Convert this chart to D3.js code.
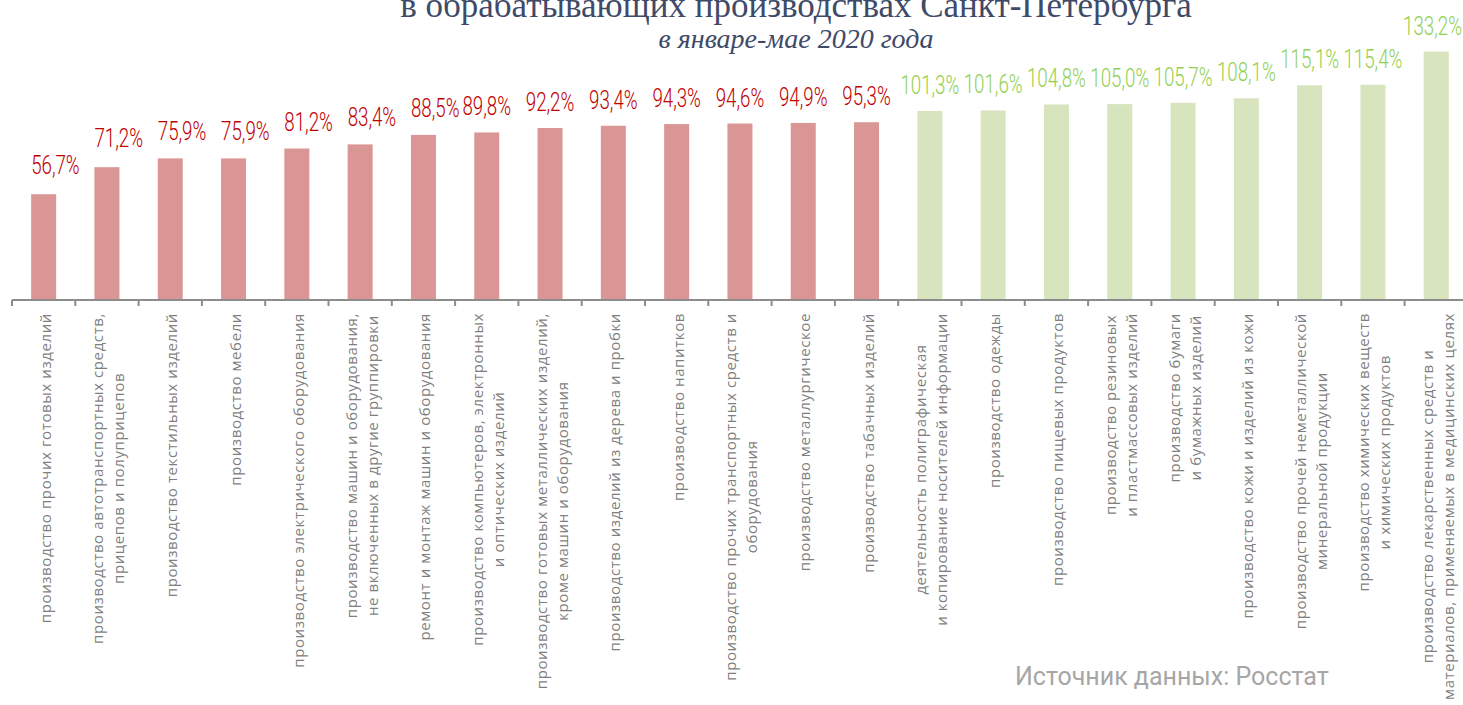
<!DOCTYPE html>
<html><head><meta charset="utf-8">
<script src="https://cdn.jsdelivr.net/npm/d3@7"></script>
<style>
html,body{margin:0;padding:0;background:#fff;}
svg{display:block;}
</style></head>
<body>
<svg id="chart" width="1463" height="705"></svg>
<script>
const categories = [
  ["производство прочих готовых изделий"],
  ["производство автотранспортных средств,", "прицепов и полуприцепов"],
  ["производство текстильных изделий"],
  ["производство мебели"],
  ["производство электрического оборудования"],
  ["производство машин и оборудования,", "не включенных в другие группировки"],
  ["ремонт и монтаж машин и оборудования"],
  ["производство компьютеров, электронных", "и оптических изделий"],
  ["производство готовых металлических изделий,", "кроме машин  и оборудования"],
  ["производство изделий из дерева и пробки"],
  ["производство напитков"],
  ["производство прочих транспортных средств и", "оборудования"],
  ["производство металлургическое"],
  ["производство табачных изделий"],
  ["деятельность полиграфическая", "и копирование носителей информации"],
  ["производство одежды"],
  ["производство пищевых продуктов"],
  ["производство резиновых", "и пластмассовых изделий"],
  ["производство бумаги", "и бумажных изделий"],
  ["производство кожи и изделий из кожи"],
  ["производство прочей неметаллической", "минеральной продукции"],
  ["производство химических веществ", "и химических продуктов"],
  ["производство лекарственных средств и", "материалов, применяемых в медицинских целях"]
];
const values = [56.7, 71.2, 75.9, 75.9, 81.2, 83.4, 88.5, 89.8, 92.2, 93.4, 94.3, 94.6, 94.9, 95.3,
                101.3, 101.6, 104.8, 105.0, 105.7, 108.1, 115.1, 115.4, 133.2];
const titleLine = "в обрабатывающих производствах Санкт-Петербурга";
const subtitle = "в январе-мае 2020 года";
const sourceText = "Источник данных: Росстат";

const W = 1463;
const svg = d3.select("#chart");
const n = values.length;
const step = 63.3;
const x0 = 12, baseY = 300;
const x = d3.scaleBand().domain(d3.range(n)).range([x0, x0 + step * n]).paddingInner(0.605).paddingOuter(0.3025);
const y = d3.scaleLinear().domain([0, 133.2]).range([baseY, 51.5]);
const fmt = v => d3.format(".1f")(v).replace(".", ",") + "%";
const isUp = v => v >= 100;

// title
svg.append("text").attr("x", 796).attr("y", 17).attr("text-anchor", "middle")
  .attr("font-family", "Liberation Serif, serif").attr("font-size", 35).attr("fill", "#3E4A68")
  .text(titleLine);
svg.append("text").attr("x", 796).attr("y", 48).attr("text-anchor", "middle")
  .attr("font-family", "Liberation Serif, serif").attr("font-style", "italic").attr("font-size", 28).attr("fill", "#3E4A68")
  .text(subtitle);

// bars
svg.append("g").selectAll("rect").data(values).join("rect")
  .attr("x", (d, i) => x(i)).attr("width", x.bandwidth())
  .attr("y", d => y(d)).attr("height", d => baseY - y(d))
  .attr("fill", d => isUp(d) ? "#D7E4BD" : "#D99694");

// value labels (first few sit left-aligned on the bar, the rest centred)
const leftAligned = i => i < 7;
const sx = 0.72;
const labels = svg.append("g").selectAll("text").data(values).join("text")
  .attr("text-anchor", (d, i) => leftAligned(i) ? "start" : "middle")
  .attr("font-family", "Roboto, sans-serif")
  .attr("font-weight", 300)
  .attr("font-size", 26)
  .attr("fill", d => isUp(d) ? "#92D050" : "#C00000")
  .text(fmt);
labels.each(function (d, i) {
  const w = this.getComputedTextLength() * sx;
  let tx = leftAligned(i) ? x(i) : x(i) + x.bandwidth() / 2;
  const right = leftAligned(i) ? tx + w : tx + w / 2;
  if (right > W - 1) tx -= right - (W - 1);
  const gap = i < 2 ? 20 : (leftAligned(i) ? 18 : 17);
  d3.select(this).attr("transform", `translate(${tx},${y(d) - gap}) scale(${sx},1)`);
});

// axis line + ticks
const axis = svg.append("g");
axis.append("line").attr("x1", x0).attr("x2", x0 + step * n).attr("y1", baseY).attr("y2", baseY)
  .attr("stroke", "#8C8C8C").attr("stroke-width", 2);
axis.selectAll("line.tick").data(d3.range(n + 1)).join("line").attr("class", "tick")
  .attr("x1", i => x0 + i * x.step()).attr("x2", i => x0 + i * x.step())
  .attr("y1", baseY).attr("y2", baseY + 6)
  .attr("stroke", "#8C8C8C").attr("stroke-width", 2);

// category labels
const labTop = 313, lh = 21;
categories.forEach((lines, i) => {
  const cx = x(i) + x.bandwidth() / 2;
  const g = svg.append("g").attr("transform", `translate(${cx + 2},${labTop}) rotate(-90)`);
  const texts = lines.map((t, k) => g.append("text")
    .attr("font-family", "Open Sans, sans-serif").attr("font-size", 15)
    .attr("letter-spacing", 0.6)
    .attr("fill", "#7F7F7F").attr("text-anchor", "middle")
    .attr("y", (k - (lines.length - 1) / 2) * lh + 5)
    .text(t));
  const maxW = d3.max(texts, t => t.node().getComputedTextLength());
  texts.forEach(t => t.attr("x", -maxW / 2));
});

// source
svg.append("text").attr("x", 1015).attr("y", 685)
  .attr("font-family", "Roboto, sans-serif").attr("font-size", 25).attr("fill", "#A6A6A6")
  .text(sourceText);
</script>
</body></html>
